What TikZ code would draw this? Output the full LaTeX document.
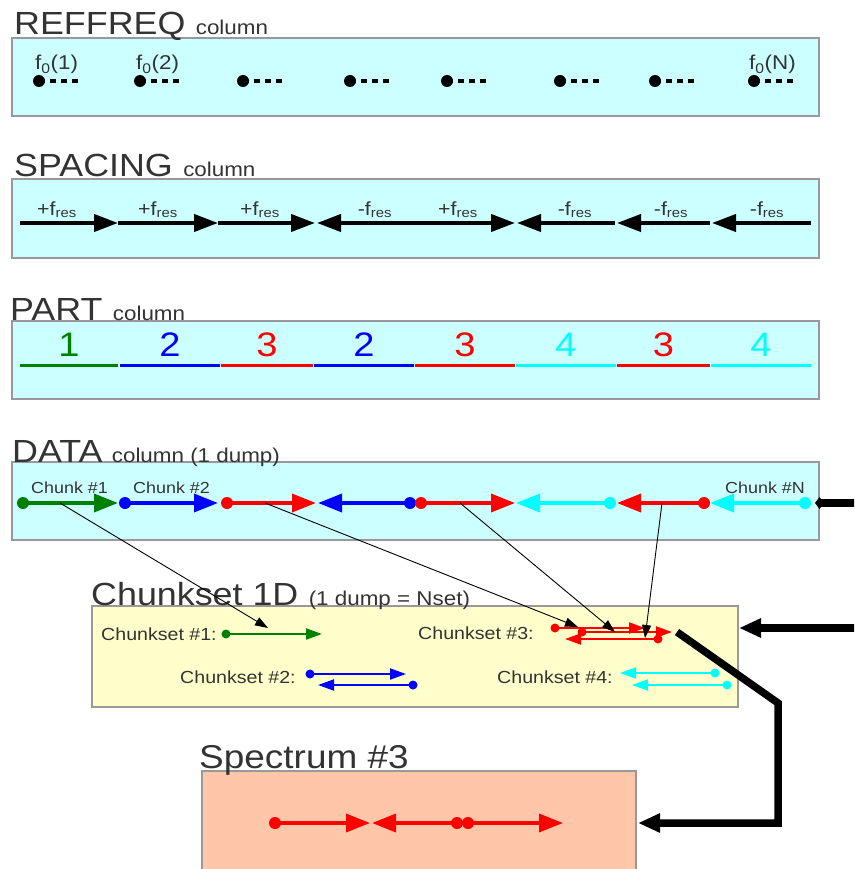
\documentclass[tikz,border=0pt]{standalone}
\usepackage{fontspec}
\setmainfont{Liberation Sans}[FakeStretch=1.12]
\usepackage{tikz}
\usetikzlibrary{arrows.meta, positioning}
\definecolor{colbox}{HTML}{CCFFFF}
\definecolor{setbox}{HTML}{FFFFCC}
\definecolor{specbox}{HTML}{FFC6AA}
\definecolor{darkgreen}{HTML}{008000}
\definecolor{pureblue}{HTML}{0000FF}
\definecolor{purered}{HTML}{FF0000}
\definecolor{purecyan}{HTML}{00FFFF}
\definecolor{textgray}{HTML}{333333}
\definecolor{boxedge}{HTML}{999999}

\begin{document}
\begin{tikzpicture}[x=1pt, y=-1pt,
    panel/.style={draw=boxedge, line width=1.5pt},
    title/.style={anchor=base west, inner sep=0, text=textgray, font=\fontsize{32}{32}\selectfont},
    subtitle/.style={anchor=base west, inner sep=0, text=textgray, font=\fontsize{20}{20}\selectfont},
    lab/.style={anchor=base, inner sep=0, text=textgray, font=\fontsize{19}{19}\selectfont},
    num/.style={anchor=base, inner sep=0, font=\fontsize{34}{34}\selectfont},
    chunklab/.style={anchor=base west, inner sep=0, text=textgray, font=\fontsize{16}{16}\selectfont},
    setlab/.style={anchor=base west, inner sep=0, text=textgray, font=\fontsize{17.5}{17.5}\selectfont},
    spacer/.style={line width=4pt, -{Triangle[length=24pt, width=17pt]}},
    chunk/.style={line width=3.5pt, -{Triangle[length=24pt, width=18pt]}},
    small chunk/.style={line width=2pt, -{Triangle[length=16pt, width=11pt]}},
    link/.style={line width=0.9pt, -{Triangle[length=13pt, width=9pt]}},
    feed/.style={line width=7.5pt, line join=miter, -{Triangle[length=22pt, width=18pt]}}]
      \useasboundingbox (0,0) rectangle (854,869);
      \clip (0,0) rectangle (854,869);
      % panels
      \draw [panel, fill=colbox] (12,38) rectangle (819,116);
      \draw [panel, fill=colbox] (12,179) rectangle (819,258);
      \draw [panel, fill=colbox] (12,321) rectangle (819,399);
      \draw [panel, fill=colbox] (12,462) rectangle (819,540);
      \draw [panel, fill=setbox] (92,606) rectangle (738,707);
      \draw [panel, fill=specbox] (202,771) rectangle (636,890);
      % titles
      \node [title] (reftitle) at (14,35) {REFFREQ};
      \node [subtitle] (refsub) at ([xshift=10pt]reftitle.base east) {column};
      \node [title] (sptitle) at (14,177) {SPACING};
      \node [subtitle] (spsub) at ([xshift=10pt]sptitle.base east) {column};
      \node [title] (parttitle) at (10,320) {PART};
      \node [subtitle] (partsub) at ([xshift=10pt]parttitle.base east) {column};
      \node [title] (datatitle) at (12,462) {DATA};
      \node [subtitle] (datasub) at ([xshift=9pt]datatitle.base east) {column (1 dump)};
      \node [title] (settitle) at (91,605) {Chunkset 1D};
      \node [subtitle] (setsub) at ([xshift=10pt]settitle.base east) {(1 dump = Nset)};
      \node [title, font=\fontsize{33}{33}\selectfont] (spectitle) at (199,768) {Spectrum \#3};
      % REFFREQ column
      \foreach \x in {39,140,243,350,447,560,655,754} {
        \fill (\x,81) circle (6pt);
        \draw [line width=3.5pt, dash pattern=on 6pt off 5pt] (\x,81) -- ++(41,0);
      }
      \node [lab, anchor=base west, font=\fontsize{20}{20}\selectfont] (f1) at (35,70) {f\textsubscript{0}(1)};
      \node [lab, anchor=base west, font=\fontsize{20}{20}\selectfont] (f2) at (136,70) {f\textsubscript{0}(2)};
      \node [lab, anchor=base west, font=\fontsize{20}{20}\selectfont] (fN) at (749,70) {f\textsubscript{0}(N)};
      % SPACING column
      \foreach \a/\b in {20/118, 118/218, 218/315, 415/317, 415/515, 615/517, 710/617, 811/712}
        \draw [spacer] (\a,223) -- (\b,223);
      \foreach \x/\s in {57/+, 158/+, 260/+, 375/-, 458/+, 575/-, 671/-, 767/-}
        \node [lab] (sp\x) at (\x,215) {\s f\textsubscript{res}};
      % PART column
      \foreach \a/\b/\c/\n in {20/118/darkgreen/1, 120/220/pureblue/2, 221/313/purered/3, 314/414/pureblue/2,
                               415/515/purered/3, 516/616/purecyan/4, 617/710/purered/3, 711/811/purecyan/4} {
        \draw [\c, line width=3pt] (\a,365) -- (\b,365);
        \node [num, text=\c] (part\a) at ({(\a+\b)/2},356) {\n};
      }
      % DATA column
      \foreach \a/\b/\c in {23/118/darkgreen, 125/218/pureblue, 227/316/purered, 410/318/pureblue,
                            421/515/purered, 610/516/purecyan, 704/617/purered, 805/710/purecyan} {
        \draw [chunk, \c] (\a,503) -- (\b,503);
        \fill [\c] (\a,503) circle (6pt);
      }
      \node [chunklab] (chunk1) at (31,493) {Chunk \#1};
      \node [chunklab] (chunk2) at (133,493) {Chunk \#2};
      \node [chunklab] (chunkN) at (725,493) {Chunk \#N};
      % Chunkset 1D
      \node [setlab] (set1) at (101,640) {Chunkset \#1:};
      \node [setlab] (set2) at (180,683) {Chunkset \#2:};
      \node [setlab] (set3) at (418,639) {Chunkset \#3:};
      \node [setlab] (set4) at (497,683) {Chunkset \#4:};
      \foreach \a/\b/\y/\c in {226/322/634/darkgreen, 310/406/674/pureblue, 413/318/685/pureblue,
                               555/645/628/purered, 582/672/632/purered, 658/565/639/purered,
                               715/620/673/purecyan, 727/632/685/purecyan} {
        \draw [small chunk, \c] (\a,\y) -- (\b,\y);
        \fill [\c] (\a,\y) circle (4.5pt);
      }
      % Spectrum #3
      \foreach \a/\b in {275/370, 457/372, 468/563} {
        \draw [chunk, purered] (\a,823) -- (\b,823);
        \fill [purered] (\a,823) circle (6pt);
      }
      % chunks to chunksets
      \coordinate (g1) at (60,503);
      \coordinate (r1) at (265,503);
      \coordinate (r2) at (460,503);
      \coordinate (r3) at (662,503);
      \coordinate (s1) at (268,628);
      \coordinate (s3a) at (578,627);
      \coordinate (s3b) at (615,632);
      \coordinate (s3c) at (645,638);
      \draw [link] (g1) -- (s1);
      \draw [link] (r1) -- (s3a);
      \draw [link] (r2) -- (s3b);
      \draw [link] (r3) -- (s3c);
      % feeds
      \coordinate (datain) at (860,503);
      \coordinate (dataport) at (815,503);
      \coordinate (setin) at (860,628);
      \coordinate (setport) at (739,628);
      \coordinate (specout) at (677,632);
      \coordinate (bendA) at (778,703);
      \coordinate (bendB) at (778,823);
      \coordinate (specport) at (638,823);
      \draw [line width=7.5pt, -{Diamond[length=9pt, width=12pt]}] (datain) -- (dataport);
      \draw [feed] (setin) -- (setport);
      \draw [feed] (specout) -- (bendA) -- (bendB) -- (specport);
\end{tikzpicture}
\end{document}
